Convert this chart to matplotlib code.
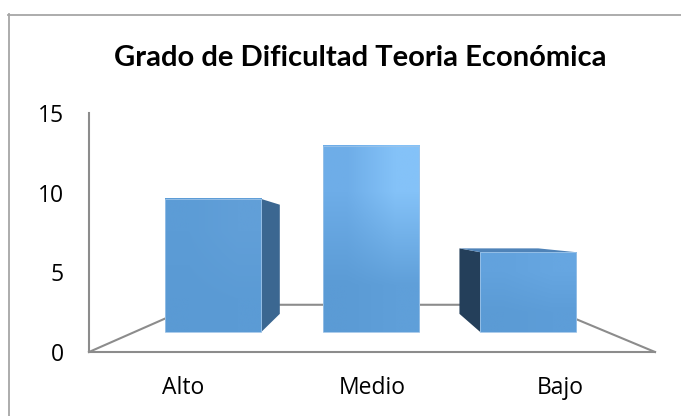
import matplotlib

matplotlib.use("Agg")
import matplotlib.pyplot as plt
import numpy as np
from matplotlib.lines import Line2D
from matplotlib.patches import Polygon

categories = ["Alto", "Medio", "Bajo"]
values = [10, 14, 6]
y_ticks = [0, 5, 10, 15]
title = "Grado de Dificultad Teoria Económica"

# perspective of the 3D view; front plane == axes data coords
VX, VY = 0.96, 7.6
S_FRONT, S_BACK, S_FLOOR = 0.835, 0.685, 0.61
HALF_W = 0.305

AXIS_GRAY = "#8c8c8c"
LABEL_FONT = ["Open Sans", "DejaVu Sans"]
TITLE_FONT = ["Lato", "DejaVu Sans"]

# front-face shading per bar: (bottom-left, bottom-right, top-left, top-right)
face_shades = [
    ("#5a9ad4", "#5b9bd5", "#5c9cd6", "#619fd8"),
    ("#5b9bd5", "#5f9fd9", "#6eade8", "#84c2f8"),
    ("#5b9bd5", "#5d9dd8", "#62a2dd", "#66a6e1"),
]


def proj(x, y, s):
    return VX + (x - VX) * s, VY + (y - VY) * s


def hex_rgb(c):
    c = c.lstrip("#")
    return [int(c[i:i + 2], 16) / 255 for i in (0, 2, 4)]


fig = plt.figure(figsize=(6.81, 4.16), dpi=100)
ax = fig.add_axes([89 / 681, 64 / 416, 566 / 681, 239 / 416])

# outer chart border (runs off the right and bottom edges)
fig.add_artist(Line2D([8.5 / 681, 8.5 / 681], [0, 1 - 14 / 416], color="#a6a6a6", lw=1.3))
fig.add_artist(Line2D([8 / 681, 1], [1 - 14.5 / 416, 1 - 14.5 / 416], color="#a6a6a6", lw=1.3))

# floor outline
fl = proj(-0.5, 0, S_FLOOR)
fr = proj(2.5, 0, S_FLOOR)
ax.plot([-0.5, fl[0], fr[0], 2.5], [0, fl[1], fr[1], 0], color=AXIS_GRAY,
        lw=1.5, zorder=1, clip_on=False)

for i, v in enumerate(values):
    x0, x1 = i - HALF_W, i + HALF_W
    fbl, fbr = proj(x0, 0, S_FRONT), proj(x1, 0, S_FRONT)
    ftl, ftr = proj(x0, v, S_FRONT), proj(x1, v, S_FRONT)
    bbl, bbr = proj(x0, 0, S_BACK), proj(x1, 0, S_BACK)
    btl, btr = proj(x0, v, S_BACK), proj(x1, v, S_BACK)

    if fbr[0] < VX:
        ax.add_patch(Polygon([fbr, ftr, btr, bbr], closed=True, fc="#3b6791",
                             ec="none", zorder=2, clip_on=False))
    if fbl[0] > VX:
        ax.add_patch(Polygon([fbl, ftl, btl, bbl], closed=True, fc="#243f5a",
                             ec="none", zorder=2, clip_on=False))
    if v < VY:
        ax.add_patch(Polygon([ftl, ftr, btr, btl], closed=True, fc="#4f83b8",
                             ec="none", zorder=2, clip_on=False))

    bl, br, tl, tr = face_shades[i]
    img = np.array([[hex_rgb(tl), hex_rgb(tr)], [hex_rgb(bl), hex_rgb(br)]])
    ax.imshow(img, extent=(fbl[0], fbr[0], fbl[1], ftl[1]), origin="upper",
              interpolation="bilinear", aspect="auto", zorder=3, clip_on=False)
    ax.add_patch(Polygon([fbl, fbr, ftr, ftl], closed=True, fc="none",
                         ec="#9cc3e8", lw=0.6, zorder=4, clip_on=False))

ax.set_xlim(-0.5, 2.5)
ax.set_ylim(0, 15)
ax.set_yticks(y_ticks)
ax.set_xticks(range(len(categories)))
ax.set_xticklabels(categories)
for side in ("top", "right"):
    ax.spines[side].set_visible(False)
for side in ("left", "bottom"):
    ax.spines[side].set_color(AXIS_GRAY)
    ax.spines[side].set_linewidth(1.5)
ax.tick_params(axis="y", length=0, pad=18, labelsize=16.5)
ax.tick_params(axis="x", length=0, pad=17, labelsize=16.5)
for lab in ax.get_xticklabels() + ax.get_yticklabels():
    lab.set_family(LABEL_FONT)
ax.patch.set_alpha(0)

fig.text(360 / 681, 1 - 58 / 416, title, ha="center", va="center",
         fontsize=21, fontweight="bold", family=TITLE_FONT)

fig.savefig("out.png", dpi=100)
plt.close(fig)
